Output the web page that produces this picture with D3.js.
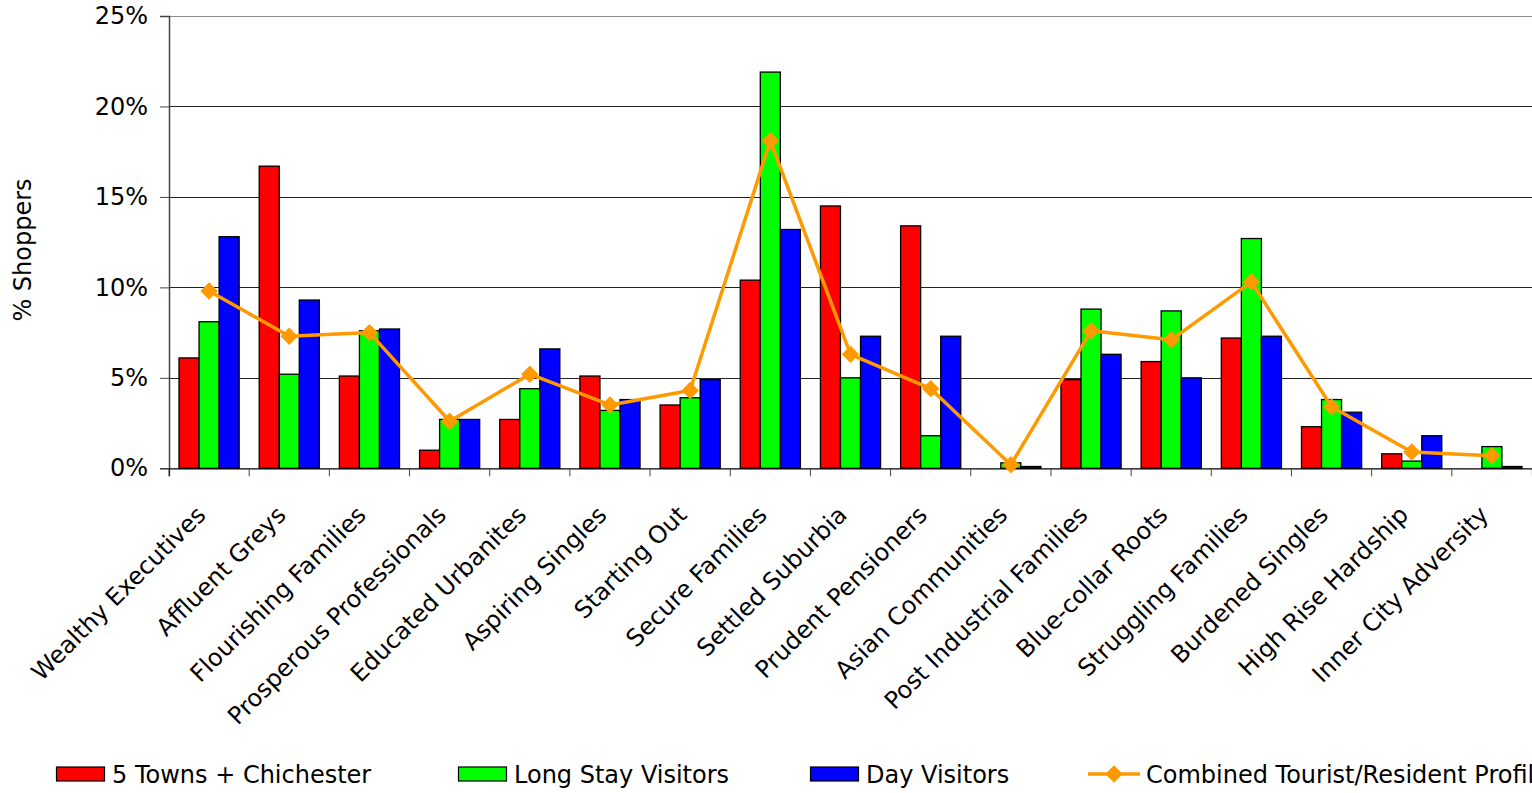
<!DOCTYPE html>
<html>
<head>
<meta charset="utf-8">
<script src="https://cdn.jsdelivr.net/npm/d3@7"></script>
<style>
    body { margin: 0; background: #fff; }
    svg { display: block; font-family: "DejaVu Sans", Verdana, sans-serif; }
</style>
</head>
<body>
<div id="chart"></div>
<script>
// data (% of shoppers)
const categories = ["Wealthy Executives", "Affluent Greys", "Flourishing Families", "Prosperous Professionals",
    "Educated Urbanites", "Aspiring Singles", "Starting Out", "Secure Families", "Settled Suburbia",
    "Prudent Pensioners", "Asian Communities", "Post Industrial Families", "Blue-collar Roots",
    "Struggling Families", "Burdened Singles", "High Rise Hardship", "Inner City Adversity"];
const seriesNames = ["5 Towns + Chichester", "Long Stay Visitors", "Day Visitors"];
const lineName = "Combined Tourist/Resident Profile";
const towns = [6.1, 16.7, 5.1, 1.0, 2.7, 5.1, 3.5, 10.4, 14.5, 13.4, 0, 4.9, 5.9, 7.2, 2.3, 0.8, 0];
const longStay = [8.1, 5.2, 7.6, 2.7, 4.4, 3.2, 3.9, 21.9, 5.0, 1.8, 0.3, 8.8, 8.7, 12.7, 3.8, 0.4, 1.2];
const dayVisitors = [12.8, 9.3, 7.7, 2.7, 6.6, 3.8, 4.9, 13.2, 7.3, 7.3, 0.1, 6.3, 5.0, 7.3, 3.1, 1.8, 0.1];
const combined = [9.8, 7.3, 7.5, 2.6, 5.2, 3.5, 4.3, 18.1, 6.3, 4.4, 0.2, 7.6, 7.1, 10.3, 3.4, 0.9, 0.7];
const yTicks = [0, 5, 10, 15, 20, 25];

const barColors = ["#ff0000", "#00ff00", "#0000ff"];
const lineColor = "#ff9900";

const width = 1532;
const height = 793;
const margin = {top: 16, right: 0, bottom: 325, left: 169};
const legendStarts = [56, 458, 810, 1088];

const svg = d3.select("#chart").append("svg")
    .attr("width", width)
    .attr("height", height);

const x = d3.scaleBand()
    .domain(categories)
    .range([margin.left, width - margin.right])
    .paddingInner(0)
    .paddingOuter(0);

const xSub = d3.scaleBand()
    .domain(seriesNames)
    .range([0, x.bandwidth()])
    .paddingInner(0)
    .paddingOuter(0.5);

const y = d3.scaleLinear()
    .domain([0, 25])
    .range([height - margin.bottom + 0.3, margin.top]);

// gridlines
svg.append("g")
    .selectAll("line")
    .data(yTicks.filter(d => d > 0))
    .join("line")
    .attr("x1", margin.left)
    .attr("x2", width)
    .attr("y1", d => Math.round(y(d)) + 0.5)
    .attr("y2", d => Math.round(y(d)) + 0.5)
    .attr("stroke", d => d === 25 ? "#8c8c8c" : "#222")
    .attr("stroke-width", 1);

// bars
const barData = [towns, longStay, dayVisitors];
const groups = svg.append("g")
    .selectAll("g")
    .data(barData)
    .join("g")
    .attr("fill", (d, i) => barColors[i]);

groups.selectAll("rect")
    .data((vals, si) => vals.map((v, ci) => ({v, ci, si})).filter(d => d.v > 0))
    .join("rect")
    .attr("x", d => x(categories[d.ci]) + xSub(seriesNames[d.si]))
    .attr("y", d => y(d.v))
    .attr("width", xSub.bandwidth())
    .attr("height", d => y(0) - y(d.v))
    .attr("stroke", "#000")
    .attr("stroke-width", 1.3);

// axes
const yAxis = svg.append("g")
    .attr("transform", `translate(${margin.left},0)`)
    .call(d3.axisLeft(y).tickValues(yTicks).tickSize(9).tickPadding(12).tickFormat(d => d + "%"));
yAxis.select(".domain").attr("stroke", "#444").attr("stroke-width", 1.5);
yAxis.selectAll(".tick line").attr("stroke", "#444");
yAxis.selectAll("text")
    .attr("font-size", 24)
    .attr("font-family", "DejaVu Sans")
    .attr("fill", "#000");

const xAxis = svg.append("g")
    .attr("transform", `translate(0,${y(0)})`)
    .call(d3.axisBottom(x).tickSize(8).tickFormat(""));
xAxis.selectAll(".tick")
    .attr("transform", (d, i) => `translate(${x.range()[0] + i * x.step()},0)`);
xAxis.select(".domain").attr("stroke", "#000").attr("stroke-width", 1.2);
xAxis.selectAll(".tick line").attr("stroke", "#444");

// rotated category labels
svg.append("g")
    .selectAll("text")
    .data(categories)
    .join("text")
    .attr("transform", d => `translate(${x(d) + x.bandwidth() / 2 - 2},${y(0) + 48}) rotate(-45)`)
    .attr("text-anchor", "end")
    .attr("font-size", 24)
    .attr("fill", "#000")
    .text(d => d);

// y title
svg.append("text")
    .attr("transform", `translate(31,250) rotate(-90)`)
    .attr("text-anchor", "middle")
    .attr("font-size", 24)
    .attr("fill", "#000")
    .text("% Shoppers");

// combined line
const cx = (d, i) => x(categories[i]) + x.bandwidth() / 2;
svg.append("path")
    .datum(combined)
    .attr("fill", "none")
    .attr("stroke", lineColor)
    .attr("stroke-width", 3.5)
    .attr("stroke-linejoin", "round")
    .attr("d", d3.line().x(cx).y(d => y(d)));

const marker = d3.symbol().type(d3.symbolSquare).size(150);
svg.append("g")
    .selectAll("path")
    .data(combined)
    .join("path")
    .attr("d", marker)
    .attr("transform", (d, i) => `translate(${cx(d, i)},${y(d)}) rotate(45)`)
    .attr("fill", lineColor);

// legend
const legend = svg.append("g").attr("transform", "translate(0,774)");
const legendItems = seriesNames.map((s, i) => ({name: s, type: "bar", color: barColors[i]}))
    .concat([{name: lineName, type: "line", color: lineColor}]);
legendItems.forEach((item, i) => {
    const g = legend.append("g").attr("transform", `translate(${legendStarts[i]},0)`);
    let textX;
    if (item.type === "bar") {
        g.append("rect")
            .attr("x", 0.5).attr("y", -7)
            .attr("width", 48).attr("height", 14)
            .attr("fill", item.color)
            .attr("stroke", "#000").attr("stroke-width", 1.2);
        textX = 56;
    } else {
        g.append("line")
            .attr("x1", 0).attr("x2", 52)
            .attr("y1", 0).attr("y2", 0)
            .attr("stroke", item.color).attr("stroke-width", 3.5);
        g.append("path")
            .attr("d", marker)
            .attr("transform", "translate(26,0) rotate(45)")
            .attr("fill", item.color);
        textX = 58;
    }
    g.append("text")
        .attr("x", textX)
        .attr("y", 0)
        .attr("dy", "0.36em")
        .attr("font-size", 24)
        .attr("fill", "#000")
        .text(item.name);
});
</script>
</body>
</html>
